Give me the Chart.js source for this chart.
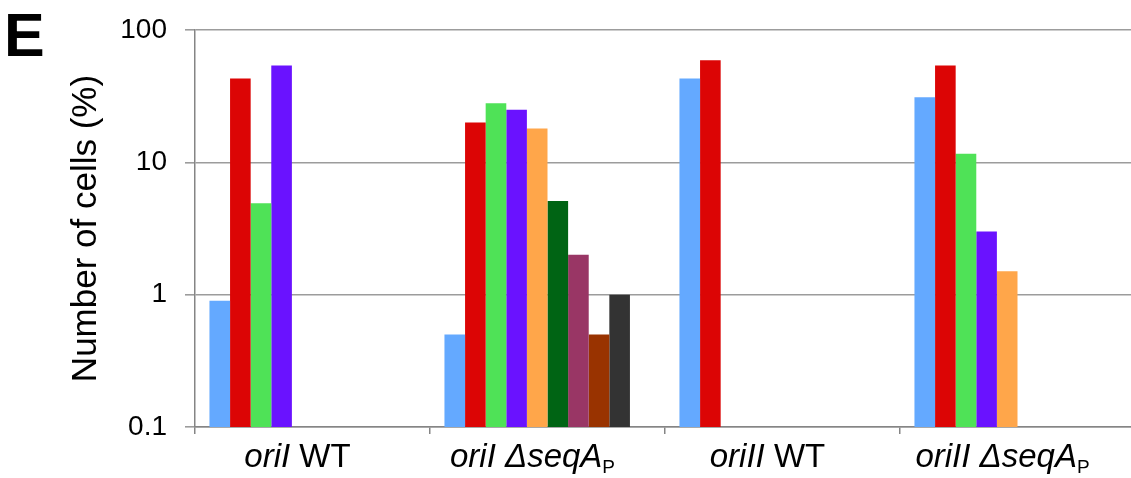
<!DOCTYPE html>
<html>
<head>
<meta charset="utf-8">
<script src="https://cdn.jsdelivr.net/npm/chart.js@4/dist/chart.umd.min.js"></script>
<style>
  html, body { margin: 0; padding: 0; background: #fff; overflow: hidden; }
  #wrap { width: 1140px; height: 478px; }
</style>
</head>
<body>
<div id="wrap"><canvas id="c" width="1140" height="478"></canvas></div>
<script>
// Strains / conditions on the x axis
const categories = ['oriI WT', 'oriI \u0394seqAP', 'oriII WT', 'oriII \u0394seqAP'];

// Percentage of cells per class (log scale), one array per class
const class1 = [0.9, 0.5, 43, 31];
const class2 = [43, 20, 59, 54];
const class3 = [4.9, 28, null, 11.6];
const class4 = [54, 25, null, 3.0];
const class5 = [null, 18, null, 1.5];
const class6 = [null, 5.1, null, null];
const class7 = [null, 2.0, null, null];
const class8 = [null, 0.5, null, null];
const class9 = [null, 1.0, null, null];
const class10 = [null, null, null, null];

// Y axis tick values and their labels
const yTickValues = [0.1, 1, 10, 100];
const yTickLabels = ['0.1', '1', '10', '100'];

const seriesValues = [class1, class2, class3, class4, class5, class6, class7, class8, class9, class10];
const seriesColors = ['#64a9ff', '#dc0505', '#4fe257', '#6a12ff', '#ffa64a', '#006414', '#993665', '#993300', '#333333', '#cccccc'];

// Rich text runs for the category labels (italic gene names, subscript P)
const labelRuns = [
  [{ t: 'oriI', s: 'i' }, { t: ' WT', s: 'n' }],
  [{ t: 'oriI \u0394seqA', s: 'i' }, { t: 'P', s: 'sub' }],
  [{ t: 'oriII', s: 'i' }, { t: ' WT', s: 'n' }],
  [{ t: 'oriII \u0394seqA', s: 'i' }, { t: 'P', s: 'sub' }]
];

const FAMILY = "'Liberation Sans', Arial, sans-serif";
const GRID = '#9c9c9c';
const AXIS = '#858585';

function runFont(style) {
  if (style === 'i') return 'italic 33px ' + FAMILY;
  if (style === 'sub') return '19px ' + FAMILY;
  return '33px ' + FAMILY;
}

const richLabels = {
  id: 'richLabels',
  afterDraw(chart) {
    const ctx = chart.ctx;
    const xs = chart.scales.x;
    ctx.save();
    ctx.fillStyle = '#000';
    ctx.textBaseline = 'alphabetic';
    ctx.textAlign = 'left';
    labelRuns.forEach((runs, i) => {
      let total = 0;
      runs.forEach(r => { ctx.font = runFont(r.s); total += ctx.measureText(r.t).width; });
      let x = xs.getPixelForValue(i) - 15 - total / 2;
      const base = 467;
      runs.forEach(r => {
        ctx.font = runFont(r.s);
        ctx.fillText(r.t, x, r.s === 'sub' ? base + 6 : base);
        x += ctx.measureText(r.t).width;
      });
    });
    // panel letter
    ctx.font = 'bold 61px ' + FAMILY;
    ctx.fillText('E', 4, 56);
    ctx.restore();
  }
};

new Chart(document.getElementById('c'), {
  type: 'bar',
  data: {
    labels: categories,
    datasets: seriesValues.map((vals, k) => ({
      label: 'Class ' + (k + 1),
      data: vals,
      backgroundColor: seriesColors[k],
      borderWidth: 0,
      categoryPercentage: 0.877,
      barPercentage: 1.0
    }))
  },
  options: {
    responsive: false,
    animation: false,
    devicePixelRatio: 1,
    layout: { padding: { left: 0, top: 30, right: 5, bottom: 44 } },
    plugins: { legend: { display: false }, tooltip: { enabled: false } },
    scales: {
      x: {
        offset: true,
        grid: { display: true, drawOnChartArea: false, drawTicks: true, tickLength: 7, color: AXIS, lineWidth: 1.5 },
        border: { display: true, color: AXIS, width: 1.5 },
        ticks: { display: false }
      },
      y: {
        type: 'logarithmic',
        min: 0.1,
        max: 100,
        afterFit(scale) {
          scale.width = 195;
          scale.paddingTop = 0;
          scale.paddingBottom = 0;
        },
        afterBuildTicks(scale) { scale.ticks = yTickValues.map(v => ({ value: v })); },
        grid: { color: GRID, lineWidth: 1.6, tickLength: 10, drawTicks: true },
        border: { display: true, color: AXIS, width: 1.5 },
        ticks: {
          padding: 18,
          color: '#000',
          font: { family: FAMILY, size: 28 },
          callback: (v) => yTickLabels[yTickValues.indexOf(v)] ?? ''
        },
        title: {
          display: true,
          text: 'Number of cells (%)',
          color: '#000',
          font: { family: FAMILY, size: 35 },
          padding: { top: 65, bottom: 0 }
        }
      }
    }
  },
  plugins: [richLabels]
});
</script>
</body>
</html>
